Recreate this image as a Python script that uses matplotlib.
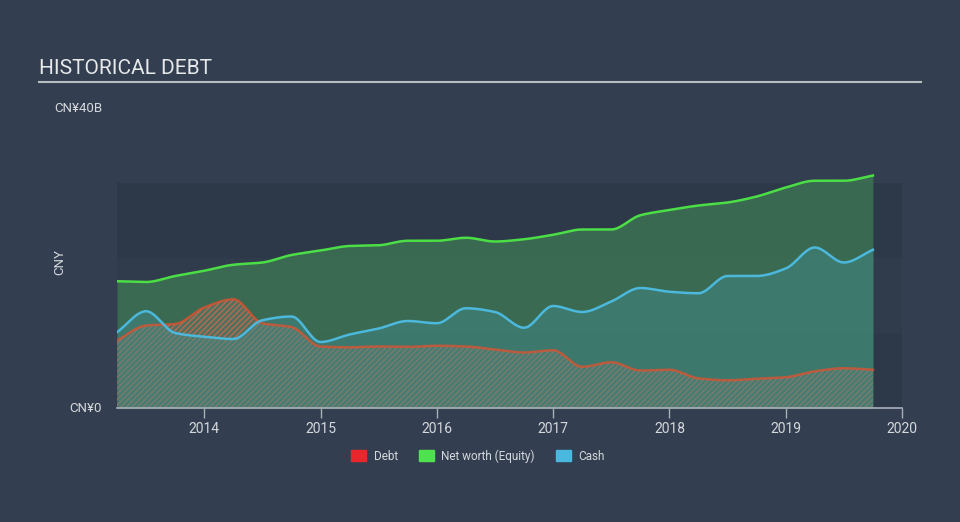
import numpy as np
import matplotlib
matplotlib.use("Agg")
import matplotlib.pyplot as plt
from matplotlib.patches import Rectangle
from matplotlib.lines import Line2D

plt.rcParams['font.family'] = ['Roboto', 'DejaVu Sans']
plt.rcParams['hatch.linewidth'] = 0.9

BG = '#333f50'
BAND_DARK = '#2d3848'
BAND_MID = '#303b4b'
TEXT = '#d5d8dc'
AXIS = '#aab0ba'

DEBT_C = '#e0512f'
NW_C = '#4cde46'
CASH_C = '#4bb8dc'

# quarterly points, decimal years
quarters = [2013.25, 2013.5, 2013.75, 2014.0, 2014.25, 2014.5, 2014.75,
            2015.0, 2015.25, 2015.5, 2015.75, 2016.0, 2016.25, 2016.5, 2016.75,
            2017.0, 2017.25, 2017.5, 2017.75, 2018.0, 2018.25, 2018.5, 2018.75,
            2019.0, 2019.25, 2019.5, 2019.75]

# values in CN¥ billions
net_worth = [16.9, 16.8, 17.6, 18.3, 19.1, 19.4, 20.4, 21.0, 21.6, 21.7, 22.3,
             22.3, 22.7, 22.2, 22.5, 23.1, 23.8, 23.8, 25.7, 26.4, 27.0, 27.4,
             28.2, 29.4, 30.3, 30.3, 31.0]
cash = [10.1, 12.9, 10.0, 9.5, 9.2, 11.7, 12.2, 8.8, 9.8, 10.6, 11.6, 11.3,
        13.3, 12.8, 10.7, 13.6, 12.8, 14.2, 16.0, 15.5, 15.3, 17.6, 17.6,
        18.6, 21.4, 19.4, 21.1]
debt = [9.0, 11.0, 11.2, 13.4, 14.5, 11.3, 10.8, 8.2, 8.1, 8.2, 8.15, 8.3,
        8.2, 7.8, 7.4, 7.7, 5.5, 6.1, 5.0, 5.1, 3.95, 3.7, 3.9, 4.1, 4.9,
        5.3, 5.1]

year_ticks = [2014, 2015, 2016, 2017, 2018, 2019, 2020]


def smooth(x, y, n=24):
    # monotone cubic (Fritsch-Carlson) for drawing the curve between points
    x = np.asarray(x, float)
    y = np.asarray(y, float)
    h = np.diff(x)
    d = np.diff(y) / h
    m = np.zeros_like(y)
    m[0], m[-1] = d[0], d[-1]
    for i in range(1, len(y) - 1):
        if d[i - 1] * d[i] <= 0:
            m[i] = 0
        else:
            w1 = 2 * h[i] + h[i - 1]
            w2 = h[i] + 2 * h[i - 1]
            m[i] = (w1 + w2) / (w1 / d[i - 1] + w2 / d[i])
    xs, ys = [], []
    for i in range(len(x) - 1):
        t = np.linspace(0, 1, n, endpoint=False)
        h00 = 2 * t**3 - 3 * t**2 + 1
        h10 = t**3 - 2 * t**2 + t
        h01 = -2 * t**3 + 3 * t**2
        h11 = t**3 - t**2
        xs.append(x[i] + t * h[i])
        ys.append(h00 * y[i] + h10 * h[i] * m[i] + h01 * y[i + 1] + h11 * h[i] * m[i + 1])
    xs.append([x[-1]])
    ys.append([y[-1]])
    return np.concatenate(xs), np.concatenate(ys)


fig = plt.figure(figsize=(9.6, 5.22), dpi=100, facecolor=BG)
ax = fig.add_axes([117 / 960, 1 - 408 / 522, 785 / 960, 300 / 522])
ax.set_facecolor(BG)
ax.set_xlim(2013.25, 2020)
ax.set_ylim(0, 40)

# background bands
for lo, hi, c in [(0, 10, BAND_DARK), (10, 20, BAND_MID), (20, 30, BAND_DARK)]:
    ax.axhspan(lo, hi, color=c, lw=0, zorder=0)

xn, yn = smooth(quarters, net_worth)
xc, yc = smooth(quarters, cash)
xd, yd = smooth(quarters, debt)

ax.fill_between(xn, 0, yn, color='#3f7a55', alpha=0.75, lw=0, zorder=1)
# debt hatch sits under the cash fill
ax.fill_between(xd, 0, yd, facecolor='#8a8078', alpha=0.3, lw=0, zorder=2)
ax.fill_between(xd, 0, yd, facecolor='none', edgecolor=(0.88, 0.42, 0.3, 0.75),
                hatch='//////', lw=0, zorder=2)
ax.fill_between(xc, 0, yc, color='#3f8a88', alpha=0.5, lw=0, zorder=3)
ax.plot(xd, yd, color=DEBT_C, lw=1.8, alpha=0.75, zorder=4)

ax.plot(xn, yn, color=NW_C, lw=1.8, zorder=5)
ax.plot(xc, yc, color=CASH_C, lw=1.8, zorder=5)

for s in ['top', 'right', 'left']:
    ax.spines[s].set_visible(False)
ax.spines['bottom'].set_color(AXIS)
ax.spines['bottom'].set_linewidth(1.2)
ax.spines['bottom'].set_zorder(6)
ax.set_yticks([])
ax.set_xticks(year_ticks)
ax.set_xticklabels([str(y) for y in year_ticks])
ax.tick_params(axis='x', colors=AXIS, length=7, width=1, labelcolor=TEXT,
               labelsize=10, pad=3)

# texts
fig.text(39 / 960, 1 - 69 / 522, 'HISTORICAL DEBT', color='#e6e8ea', fontsize=15,
         va='center', ha='left')
fig.add_artist(Line2D([39 / 960, 921 / 960], [1 - 82 / 522, 1 - 82 / 522],
                      color='#b8bcc2', lw=1.5))
fig.text(102 / 960, 1 - 108 / 522, 'CN¥40B', color=TEXT, fontsize=9.5,
         ha='right', va='center')
fig.text(102 / 960, 1 - 408 / 522, 'CN¥0', color=TEXT, fontsize=9.5,
         ha='right', va='center')
fig.text(60 / 960, 1 - 262 / 522, 'CNY', color=TEXT, fontsize=9.5,
         rotation=90, ha='center', va='center')

# legend
handles = [Rectangle((0, 0), 1, 1, color='#e8262b'),
           Rectangle((0, 0), 1, 1, color='#4ee34e'),
           Rectangle((0, 0), 1, 1, color='#4ab8de')]
fig.legend(handles, ['Debt', 'Net worth (Equity)', 'Cash'], loc='center',
           bbox_to_anchor=(478 / 960, 1 - 456 / 522), ncol=3, frameon=False,
           fontsize=8.5, labelcolor=TEXT, handlelength=1.3, handleheight=1.1,
           handletextpad=0.6, columnspacing=1.8)

fig.savefig('out.png', dpi=100, facecolor=BG)
